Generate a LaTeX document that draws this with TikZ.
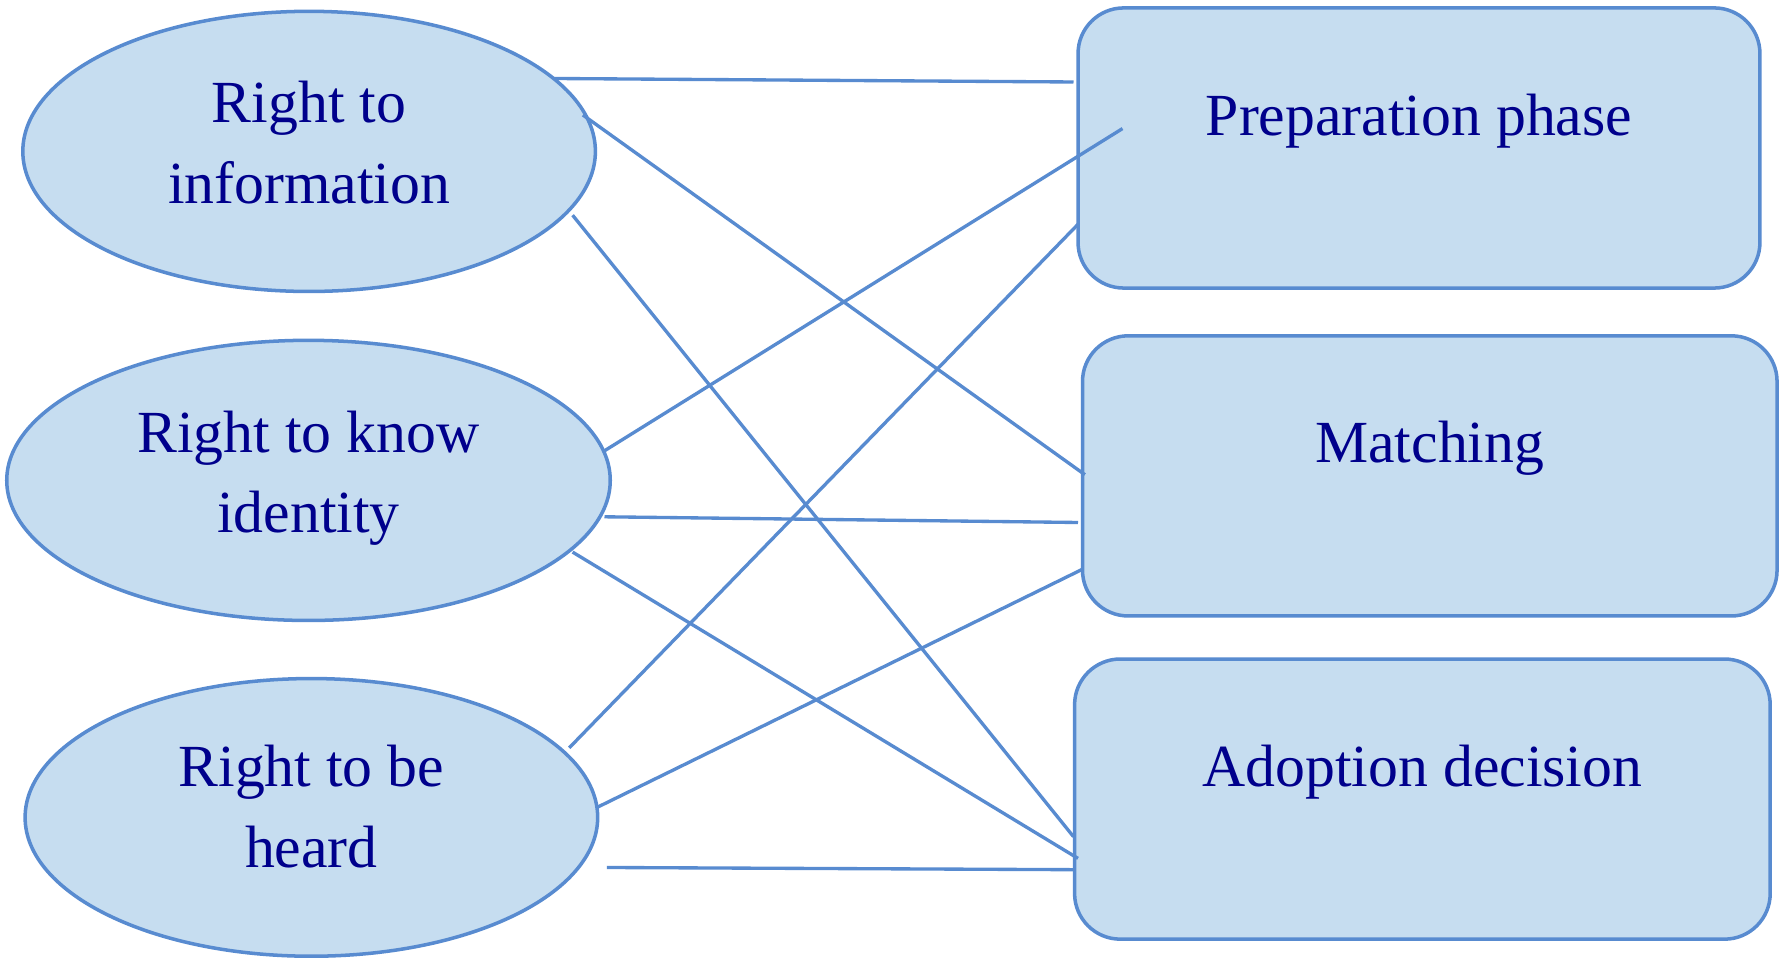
\documentclass[tikz,border=0pt]{standalone}
\usepackage{fontspec}
\setmainfont{Liberation Serif}
\usetikzlibrary{shapes.geometric}
\definecolor{fillblue}{RGB}{198,221,240}
\definecolor{edgeblue}{RGB}{88,139,208}
\definecolor{txtblue}{RGB}{0,0,140}
\begin{document}
\begin{tikzpicture}[x=0.2845pt,y=-0.2845pt,
  rightell/.style={ellipse,draw=edgeblue,fill=fillblue,line width=1pt,inner sep=0pt},
  phasebox/.style={rectangle,rounded corners=13pt,draw=edgeblue,fill=fillblue,line width=1pt,inner sep=0pt,minimum height=79.7pt},
  lbl/.style={text=txtblue,align=center,font=\fontsize{17}{23}\selectfont},
  conn/.style={draw=edgeblue,line width=0.95pt}]
\useasboundingbox (0,0) rectangle (1785,958);
% ellipses
\node[rightell,minimum width=162.9pt,minimum height=79.7pt,
  label={[lbl,yshift=2.5pt]center:Right to\\information}] (e1) at (309.1,151.4) {};
\node[rightell,minimum width=171.7pt,minimum height=79.7pt,
  label={[lbl,yshift=0.6pt]center:Right to know\\identity}] (e2) at (308.5,480.4) {};
\node[rightell,minimum width=162.9pt,minimum height=79.0pt,
  label={[lbl,yshift=3.1pt]center:Right to be\\heard}] (e3) at (311.4,817.4) {};
% boxes
\node[phasebox,minimum width=194.0pt,
  label={[lbl,yshift=7.6pt]center:Preparation phase}] (r1) at (1419,148) {};
\node[phasebox,minimum width=197.6pt,
  label={[lbl,yshift=7.8pt]center:Matching}] (r2) at (1429.8,475.9) {};
\node[phasebox,minimum width=197.9pt,
  label={[lbl,yshift=7.6pt]center:Adoption decision}] (r3) at (1422.4,799.1) {};
% connector end points
\coordinate (a1) at (553.3,78.5);  \coordinate (b1) at (1073.5,82);
\coordinate (a2) at (582.9,115);   \coordinate (b2) at (1084.9,474.7);
\coordinate (a3) at (572.6,215.2); \coordinate (b3) at (1073.5,836.7);
\coordinate (a4) at (604.5,450.8); \coordinate (b4) at (1122.5,128.6);
\coordinate (a5) at (604.5,516.8); \coordinate (b5) at (1078,522.5);
\coordinate (a6) at (572.6,552.1); \coordinate (b6) at (1078,858.4);
\coordinate (a7) at (569.2,747.9); \coordinate (b7) at (1078,224.3);
\coordinate (a8) at (597.7,807.1); \coordinate (b8) at (1082.6,569.2);
\coordinate (a9) at (606.8,867.5); \coordinate (b9) at (1074.6,869.7);
\foreach \i in {1,...,9} { \draw[conn] (a\i) -- (b\i); }
\end{tikzpicture}
\end{document}
